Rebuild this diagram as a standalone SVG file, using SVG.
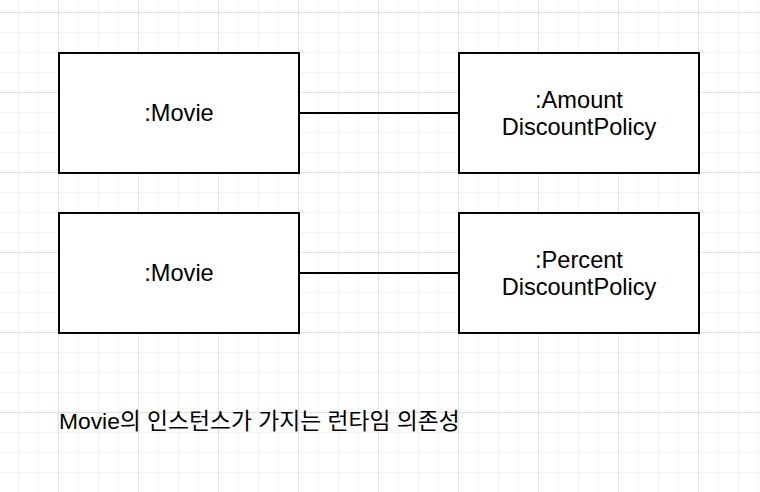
<svg xmlns="http://www.w3.org/2000/svg" width="760" height="492" viewBox="0 0 760 492">
  <style>
    .box { fill: #ffffff; stroke: #000000; stroke-width: 2; }
    .lbl { font-family: "Liberation Sans", Arial, "Noto Sans CJK KR", sans-serif; font-size: 23.6px; fill: #000000; text-anchor: middle; }
    .cap { font-family: "Liberation Sans", Arial, "Noto Sans CJK KR", sans-serif; font-size: 22.8px; fill: #000000; }
    .conn { stroke: #000000; stroke-width: 2; fill: none; }
  </style>
  <defs>
    <pattern id="grid" patternUnits="userSpaceOnUse" x="58" y="12" width="80" height="80">
      <path d="M20.5 0V80M40.5 0V80M60.5 0V80M0 20.5H80M0 40.5H80M0 60.5H80" stroke="#f3f3f3" stroke-width="1" fill="none"/>
      <path d="M0.5 0V80M0 0.5H80" stroke="#e0e0e0" stroke-width="1" fill="none"/>
    </pattern>
  </defs>
  <rect x="0" y="0" width="760" height="492" fill="#ffffff"/>
  <rect x="0" y="0" width="760" height="492" fill="url(#grid)"/>

  <g id="connectors">
    <line class="conn" x1="300" y1="113" x2="458" y2="113"/>
    <line class="conn" x1="300" y1="273" x2="458" y2="273"/>
  </g>

  <g id="movie1">
    <rect class="box" x="59" y="53" width="240" height="120"/>
    <text class="lbl" x="179" y="121">:Movie</text>
  </g>
  <g id="amount">
    <rect class="box" x="459" y="53" width="240" height="120"/>
    <text class="lbl" x="579" y="108">:Amount</text>
    <text class="lbl" x="579" y="135">DiscountPolicy</text>
  </g>
  <g id="movie2">
    <rect class="box" x="59" y="213" width="240" height="120"/>
    <text class="lbl" x="179" y="281">:Movie</text>
  </g>
  <g id="percent">
    <rect class="box" x="459" y="213" width="240" height="120"/>
    <text class="lbl" x="579" y="268">:Percent</text>
    <text class="lbl" x="579" y="295">DiscountPolicy</text>
  </g>
  <g id="caption">
    <text class="cap" x="59" y="429">Movie의 인스턴스가 가지는 런타임 의존성</text>
  </g>
</svg>
